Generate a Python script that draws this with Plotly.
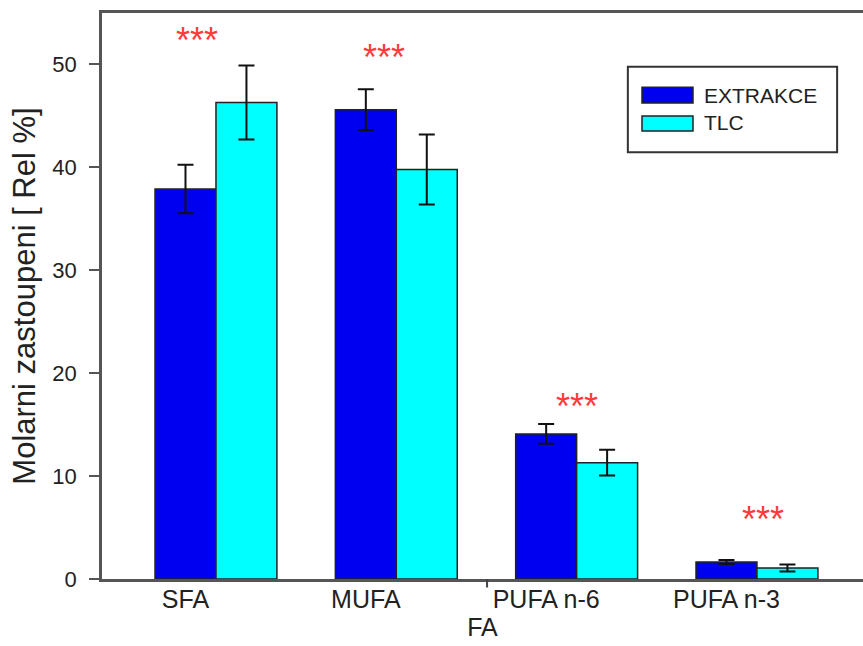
import plotly.graph_objects as go

categories = ["SFA", "MUFA", "PUFA n-6", "PUFA n-3"]
series_names = ["EXTRAKCE", "TLC"]
series_colors = ["#0000f0", "#00ffff"]
extrakce = [37.9, 45.6, 14.1, 1.65]
extrakce_err = [2.35, 2.0, 0.95, 0.2]
tlc = [46.3, 39.8, 11.3, 1.07]
tlc_err = [3.6, 3.4, 1.25, 0.35]
star_y = [52.7, 51.1, 17.2, 6.2]
star_dx = [-0.105, -0.067, 0.0, 0.033]

off = 0.169
bw = 0.338
xe = [i - off for i in range(len(categories))]
xt = [i + off for i in range(len(categories))]

FONT = "Liberation Sans, Arial, sans-serif"

fig = go.Figure()
fig.add_trace(go.Bar(
    x=xe, y=extrakce, name=series_names[0], width=bw, showlegend=False,
    marker=dict(color=series_colors[0], line=dict(color="#222222", width=1.5)),
    error_y=dict(type="data", array=extrakce_err, color="#111111", thickness=2, width=8),
))
fig.add_trace(go.Bar(
    x=xt, y=tlc, name=series_names[1], width=bw, showlegend=False,
    marker=dict(color=series_colors[1], line=dict(color="#222222", width=1.5)),
    error_y=dict(type="data", array=tlc_err, color="#111111", thickness=2, width=8),
))

for i, (sy, dx) in enumerate(zip(star_y, star_dx)):
    fig.add_annotation(x=i + dx, y=sy, text="***", showarrow=False, yshift=-4,
                       font=dict(size=36, color="#ff3b3b", family=FONT))

# small tick on the category axis
fig.add_shape(type="line", xref="paper", yref="paper", x0=0.506, x1=0.506, y0=0, y1=-0.015,
              line=dict(color="#444444", width=2))

# legend box (drawn like the original SigmaPlot legend)
fig.add_shape(type="rect", xref="paper", yref="paper", x0=0.691, x1=0.966, y0=0.754, y1=0.905,
              line=dict(color="#333333", width=2), fillcolor="white", layer="above")
sw_y = [(0.841, 0.869), (0.7915, 0.818)]
txt_y = [0.855, 0.806]
for name, col, (y0, y1), ty in zip(series_names, series_colors, sw_y, txt_y):
    fig.add_shape(type="rect", xref="paper", yref="paper", x0=0.7096, x1=0.7766, y0=y0, y1=y1,
                  line=dict(color="#222222", width=1.5), fillcolor=col, layer="above")
    fig.add_annotation(xref="paper", yref="paper", x=0.788, y=ty, text=name, showarrow=False,
                       xanchor="left", yanchor="middle",
                       font=dict(size=21, color="#222222", family=FONT))

fig.update_layout(
    width=863, height=646,
    margin=dict(l=102, r=0, t=13, b=67),
    paper_bgcolor="white", plot_bgcolor="white",
    font=dict(family=FONT, size=22, color="#222222"),
    barmode="overlay",
    showlegend=False,
    xaxis=dict(range=[-0.632, 3.588], tickvals=xe, ticktext=categories,
               showline=True, linecolor="#555555", linewidth=2.5, mirror=True,
               ticks="", showgrid=False, zeroline=False, automargin=False,
               ticklabelstandoff=-4,
               title=dict(text="FA", font=dict(size=25), standoff=4),
               tickfont=dict(size=25)),
    yaxis=dict(range=[0, 55], tickvals=[0, 10, 20, 30, 40, 50],
               showline=True, linecolor="#555555", linewidth=2.5,
               ticks="outside", ticklen=10, tickwidth=2, tickcolor="#555555",
               ticklabelstandoff=8,
               showgrid=False, zeroline=False, automargin=False,
               title=dict(text="Molarni zastoupeni [ Rel %]", font=dict(size=31), standoff=8),
               tickfont=dict(size=22)),
)

fig.write_html("out.html", config={"displayModeBar": False},
               post_script="document.body.style.margin='0';document.body.style.padding='0';")
